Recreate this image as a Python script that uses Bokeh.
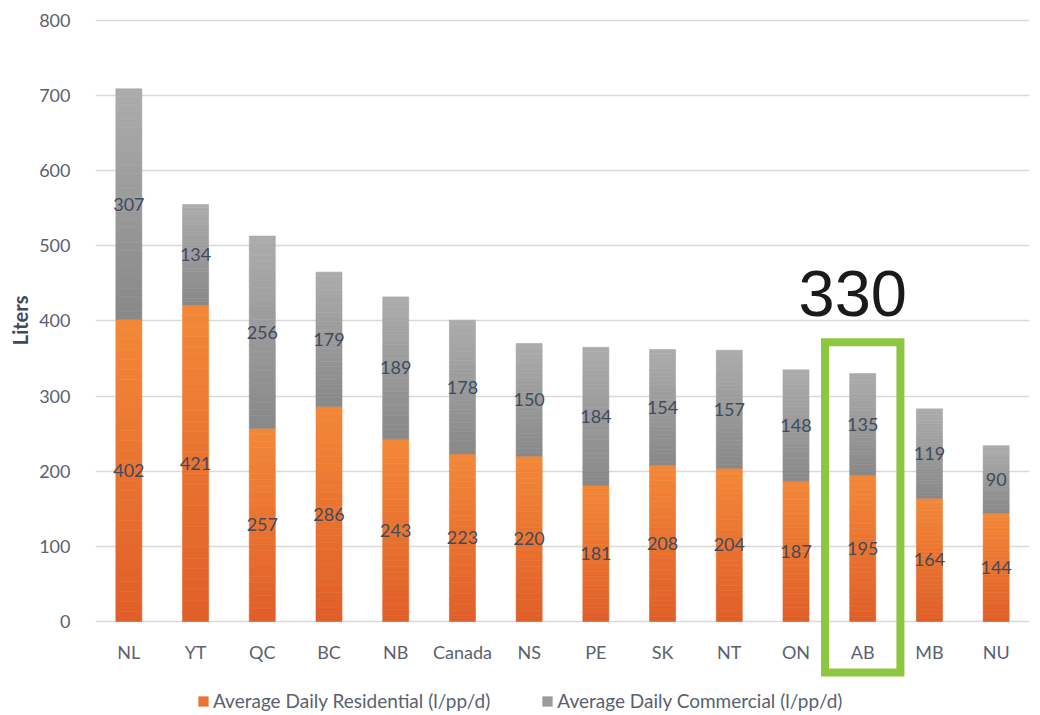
import numpy as np
from bokeh.plotting import figure
from bokeh.models import (Range1d, FactorRange, FixedTicker, Legend, LegendItem,
                          ColumnDataSource, Title)
from bokeh.core.properties import value
from bokeh.embed import file_html
from bokeh.resources import INLINE

# Average daily water use per person, by province/territory (litres)
regions = ["NL", "YT", "QC", "BC", "NB", "Canada", "NS", "PE", "SK", "NT", "ON", "AB", "MB", "NU"]
residential = [402, 421, 257, 286, 243, 223, 220, 181, 208, 204, 187, 195, 164, 144]
commercial = [307, 134, 256, 179, 189, 178, 150, 184, 154, 157, 148, 135, 119, 90]
y_ticks = [0, 100, 200, 300, 400, 500, 600, 700, 800]
legend_labels = ["Average Daily Residential (l/pp/d)", "Average Daily Commercial (l/pp/d)"]
highlight = "AB"

# styling
FONT = "Lato"
TICK_COLOR = "#5B6170"
LABEL_COLOR = "#404B5E"
ORANGE_TOP, ORANGE_BOT = (0xF3, 0x88, 0x38), (0xE0, 0x5E, 0x28)
GRAY_TOP, GRAY_BOT = (0xAC, 0xAC, 0xAC), (0x88, 0x88, 0x88)
GREEN = "#8DC63F"
BAR_W = 0.39
SLICES = 30

p = figure(x_range=FactorRange(factors=regions, range_padding=0),
           y_range=Range1d(-125.2, 810.6),
           frame_width=934, frame_height=703,
           min_border_left=95, min_border_right=11,
           min_border_top=12, min_border_bottom=0,
           output_backend="svg", toolbar_location=None,
           background_fill_color="white", border_fill_color="white")
p.outline_line_color = None
p.xaxis.visible = False
p.xgrid.visible = False
p.ygrid.ticker = FixedTicker(ticks=y_ticks)
p.ygrid.grid_line_color = "#D9D9D9"
p.ygrid.grid_line_width = 1.6

yax = p.yaxis[0]
yax.ticker = FixedTicker(ticks=y_ticks)
yax.axis_line_color = None
yax.major_tick_line_color = None
yax.minor_tick_line_color = None
yax.major_label_standoff = 19
yax.major_label_text_font = FONT
yax.major_label_text_font_size = "18px"
yax.major_label_text_color = TICK_COLOR

p.add_layout(Title(text="Liters", align="right", offset=283, text_font=FONT,
                   text_font_style="bold", text_font_size="20px",
                   text_color="#3F4A5C", standoff=10), "left")


def hexcol(c):
    return "#%02x%02x%02x" % tuple(int(round(v)) for v in c)


def mix(c0, c1, t):
    return hexcol([a + (b - a) * t for a, b in zip(c0, c1)])


def gradient_slices(lows, highs, ctop, cbot):
    """Split each stacked segment into thin slices shaded bottom-to-top."""
    xs, bots, tops, cols = [], [], [], []
    for r, lo, hi in zip(regions, lows, highs):
        edges = np.linspace(lo, hi, SLICES + 1)
        for k in range(SLICES):
            xs.append(r)
            bots.append(edges[k])
            tops.append(edges[k + 1])
            cols.append(mix(cbot, ctop, (k + 0.5) / SLICES))
    return ColumnDataSource(dict(x=xs, bottom=bots, top=tops, color=cols))


totals = [a + b for a, b in zip(residential, commercial)]
src_res = gradient_slices([0] * len(regions), residential, ORANGE_TOP, ORANGE_BOT)
src_com = gradient_slices(residential, totals, GRAY_TOP, GRAY_BOT)

r_res = p.vbar(x="x", bottom="bottom", top="top", width=BAR_W, source=src_res,
               fill_color="color", line_color="color", line_width=0.6)
r_com = p.vbar(x="x", bottom="bottom", top="top", width=BAR_W, source=src_com,
               fill_color="color", line_color="color", line_width=0.6)

# value labels centred in each segment
lab = ColumnDataSource(dict(
    x=regions + regions,
    y=[v / 2 for v in residential] + [a + b / 2 for a, b in zip(residential, commercial)],
    text=[str(v) for v in residential] + [str(v) for v in commercial]))
p.text(x="x", y="y", text="text", source=lab, text_align="center",
       text_baseline="middle", text_font=value(FONT), text_font_size="18px",
       text_color=LABEL_COLOR)

# category labels under the bars
p.text(x=regions, y=[0] * len(regions), text=regions, y_offset=31,
       text_align="center", text_baseline="middle", text_font=value(FONT),
       text_font_size="18px", text_color=TICK_COLOR)

# highlight box around one region with its total above it
hi = regions.index(highlight)
hi_total = totals[hi]
box_top = hi_total + 41.5
box_bottom = -68
p.rect(x=[highlight], y=[(box_top + box_bottom) / 2], width=1.13,
       height=box_top - box_bottom, fill_color=None, line_color=GREEN,
       line_width=8, line_join="miter")
p.text(x=[highlight], y=[box_top], text=[str(hi_total)], x_offset=-10, y_offset=-49,
       text_align="center", text_baseline="middle",
       text_font=value("Liberation Sans"), text_font_size="65px", text_color="#1A1A1A")

# legend: swatch colour taken from a mid-height slice of each series
mid = SLICES // 2
legend = Legend(items=[LegendItem(label=legend_labels[0], renderers=[r_res], index=mid),
                       LegendItem(label=legend_labels[1], renderers=[r_com], index=mid)],
                orientation="horizontal", location=(102, 3),
                label_text_font=FONT, label_text_font_size="19px",
                label_text_color=TICK_COLOR, glyph_width=12, glyph_height=12,
                label_standoff=4, spacing=51, padding=0, margin=0,
                border_line_color=None, background_fill_alpha=0)
p.add_layout(legend)

open("out.html", "w").write(file_html(p, INLINE))
